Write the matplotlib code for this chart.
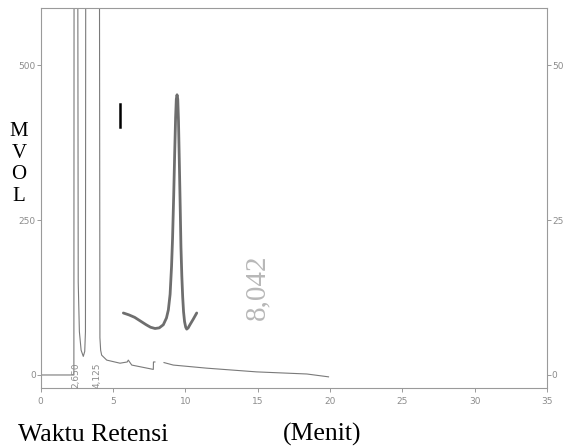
import matplotlib
matplotlib.use("Agg")
import matplotlib.pyplot as plt
import numpy as np

# chromatogram trace (retention time in min, signal in mV)
trace_t = [0.0, 2.30, 2.32, 2.55, 2.60, 2.68, 2.80, 2.95, 3.05, 3.10, 3.13,
           4.05, 4.10, 4.15, 4.22, 4.57, 5.49, 5.99, 6.06, 6.30, 7.79, 7.80,
           7.90, np.nan, 8.53, 9.17, 11.48, 14.93, 18.40, 19.90]
trace_mv = [0.0, 0.0, 1000, 1000, 150, 70, 40, 30, 38, 70, 1000,
            1000, 60, 40, 32, 24, 19, 21, 24, 16, 9, 21,
            21, np.nan, 20, 16, 11, 5, 1.6, -3]

# enlarged peak drawn over the plot
inset_t = [5.72, 6.10, 6.50, 6.90, 7.30, 7.60, 7.91, 8.20, 8.48, 8.70, 8.83,
           8.95, 9.05, 9.12, 9.20, 9.27, 9.33, 9.38, 9.43, 9.48, 9.53, 9.59,
           9.65, 9.70, 9.76, 9.82, 9.88, 9.95, 10.03, 10.10, 10.20, 10.32,
           10.55, 10.79]
inset_mv = [100, 97, 93, 87, 81, 77, 75, 76, 81, 92, 105,
            130, 175, 220, 290, 360, 415, 445, 452, 445, 410, 341,
            270, 207, 160, 126, 102, 86, 77, 74, 76, 81,
            90, 100]

peak_labels = ["2,650", "4,125"]
peak_label_t = [2.47, 3.92]

x_ticks = [0, 5, 10, 15, 20, 25, 30, 35]
y_ticks = [0, 250, 500]

frame = "#9a9a9a"
tick_col = "#8c8c8c"

fig = plt.figure(figsize=(5.63, 4.46), dpi=100)
ax = fig.add_axes([40.6 / 563, 1 - 388 / 446, (547 - 40.6) / 563, (388 - 8) / 446])

ax.plot(trace_t, trace_mv, color="#7a7a7a", lw=0.8)
ax.plot(inset_t, inset_mv, color="#6e6e6e", lw=2.0,
        solid_capstyle="round", solid_joinstyle="round")
ax.plot([5.48, 5.48], [400, 437], color="black", lw=1.8)

for lab, t in zip(peak_labels, peak_label_t):
    ax.text(t, -1, lab, rotation=90, ha="center", va="center",
            fontsize=6.5, color=tick_col)

ax.text(15.0, 142, "8,042", rotation=90, ha="center", va="center",
        fontsize=21, color="#b8b8b8", family="Liberation Serif")

ax.set_xlim(0, 35)
ax.set_ylim(-21, 592)
ax.set_xticks(x_ticks)
ax.set_yticks(y_ticks)
ax.tick_params(axis="both", colors=frame, labelcolor=tick_col, labelsize=6.5,
               length=3, width=0.7, direction="out")
ax.tick_params(axis="y", right=True, labelright=True, pad=0.5)
for side in ax.spines.values():
    side.set_color(frame)
    side.set_linewidth(0.8)

fig.text(19 / 563, 1 - 164 / 446, "M\nV\nO\nL", ha="center", va="center",
         multialignment="center", linespacing=1.2, fontsize=15,
         family="Liberation Serif")
fig.text(18 / 563, 1 - 441 / 446, "Waktu Retensi", ha="left", va="baseline",
         fontsize=18.5, family="Liberation Serif")
fig.text(283 / 563, 1 - 441 / 446, "(Menit)", ha="left", va="baseline",
         fontsize=18.5, family="Liberation Serif")

fig.savefig("out.png", dpi=100)
